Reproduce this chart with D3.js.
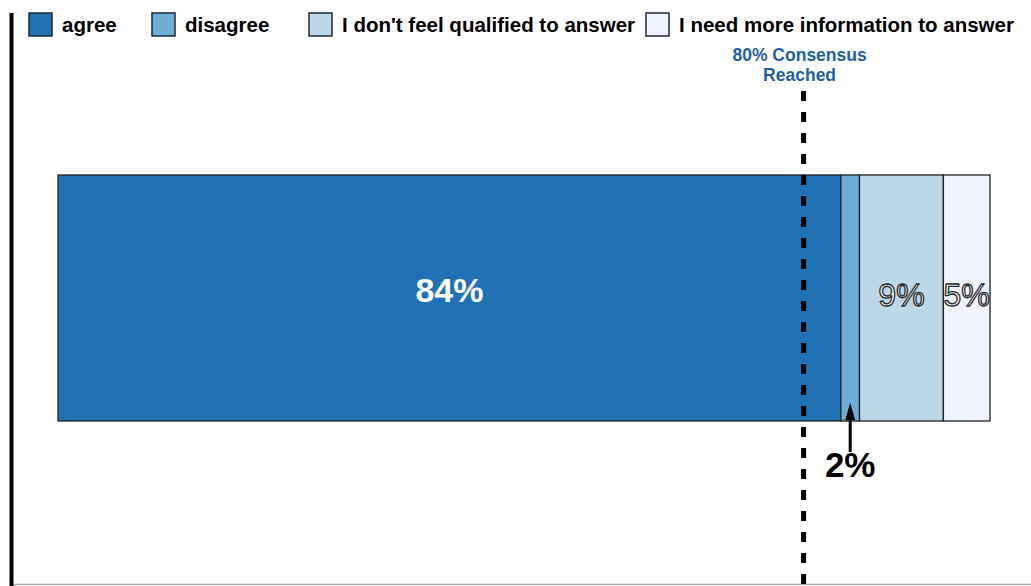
<!DOCTYPE html>
<html>
<head>
<meta charset="utf-8">
<script src="https://cdn.jsdelivr.net/npm/d3@7"></script>
<style>
  html, body { margin: 0; padding: 0; background: #fff; }
  svg { display: block; font-family: "Liberation Sans", Arial, Helvetica, sans-serif; }
</style>
</head>
<body>
<svg id="chart" width="1031" height="586"></svg>
<script>
// Survey response shares (percent) for the single stacked bar
const categories = ["agree", "disagree", "I don't feel qualified to answer", "I need more information to answer"];
const values = [84, 2, 9, 5];
const colors = ["#2171b5", "#6baed6", "#bdd7e7", "#eff3ff"];
const consensusThreshold = 80;
const consensusLabel = ["80% Consensus", "Reached"];

const svg = d3.select("#chart");
const W = 1031, H = 586;

const x = d3.scaleLinear().domain([0, 100]).range([58, 990]);
const y = d3.scaleBand().domain(["responses"]).range([175, 421]).padding(0);

// stack the segments end to end
let acc = 0;
const segs = values.map((v, i) => {
  const s = { key: categories[i], v, x0: acc, x1: acc + v, color: colors[i], i };
  acc += v;
  return s;
});

// axis frame
svg.append("line").attr("x1", 12).attr("x2", W).attr("y1", 584.5).attr("y2", 584.5)
  .attr("stroke", "#aaa").attr("stroke-width", 1.5);
svg.append("line").attr("x1", 11.5).attr("x2", 11.5).attr("y1", 13).attr("y2", H)
  .attr("stroke", "#000").attr("stroke-width", 4);

const by = y("responses"), bh = y.bandwidth();

// bar segments
svg.append("g").selectAll("rect").data(segs).join("rect")
  .attr("x", d => x(d.x0)).attr("y", by)
  .attr("width", d => x(d.x1) - x(d.x0)).attr("height", bh)
  .attr("fill", d => d.color).attr("stroke", "#222").attr("stroke-width", 1.3);

const cy = by + bh / 2;

// value labels
const main = segs[0];
svg.append("text").attr("x", (x(main.x0) + x(main.x1)) / 2).attr("y", cy + 4)
  .attr("text-anchor", "middle").attr("font-size", 34).attr("font-weight", "bold")
  .attr("fill", "#fff").text(main.v + "%");

svg.append("g").selectAll("text").data(segs.slice(2)).join("text")
  .attr("x", d => (x(d.x0) + x(d.x1)) / 2).attr("y", cy + 8)
  .attr("text-anchor", "middle").attr("font-size", 32)
  .attr("fill", "#fff").attr("stroke", "#2a2a2a").attr("stroke-width", 1.3)
  .text(d => d.v + "%");

// small segment called out below the bar
const small = segs[1];
const sx = (x(small.x0) + x(small.x1)) / 2;
svg.append("line").attr("x1", sx).attr("x2", sx).attr("y1", 452).attr("y2", by + bh - 4)
  .attr("stroke", "#000").attr("stroke-width", 3);
svg.append("path")
  .attr("d", `M${sx},${by + bh - 18} L${sx - 5},${by + bh - 1} L${sx + 5},${by + bh - 1} Z`)
  .attr("fill", "#000");
svg.append("text").attr("x", sx).attr("y", 477)
  .attr("text-anchor", "middle").attr("font-size", 35).attr("font-weight", "bold")
  .attr("fill", "#000").text(small.v + "%");

// consensus threshold
const tx = x(consensusThreshold);
svg.append("line").attr("x1", tx).attr("x2", tx).attr("y1", 91).attr("y2", H)
  .attr("stroke", "#000").attr("stroke-width", 5).attr("stroke-dasharray", "10,11");
svg.append("text").attr("text-anchor", "middle").attr("font-size", 17.5).attr("font-weight", "bold")
  .attr("fill", "#1f5fa6")
  .selectAll("tspan").data(consensusLabel).join("tspan")
  .attr("x", tx - 4).attr("y", (d, i) => 60.5 + i * 20).text(d => d);

// legend: swatch followed by its label, items laid out left to right
const legendX = [29, 152, 309, 646];
const leg = svg.append("g");
categories.forEach((c, i) => {
  leg.append("rect").attr("x", legendX[i]).attr("y", 13).attr("width", 23).attr("height", 23)
    .attr("fill", colors[i]).attr("stroke", "#1e2a36").attr("stroke-width", 1.5);
  leg.append("text").attr("x", legendX[i] + 33).attr("y", 31.5)
    .attr("font-size", 20.5).attr("font-weight", "bold").attr("fill", "#000").text(c);
});
</script>
</body>
</html>
